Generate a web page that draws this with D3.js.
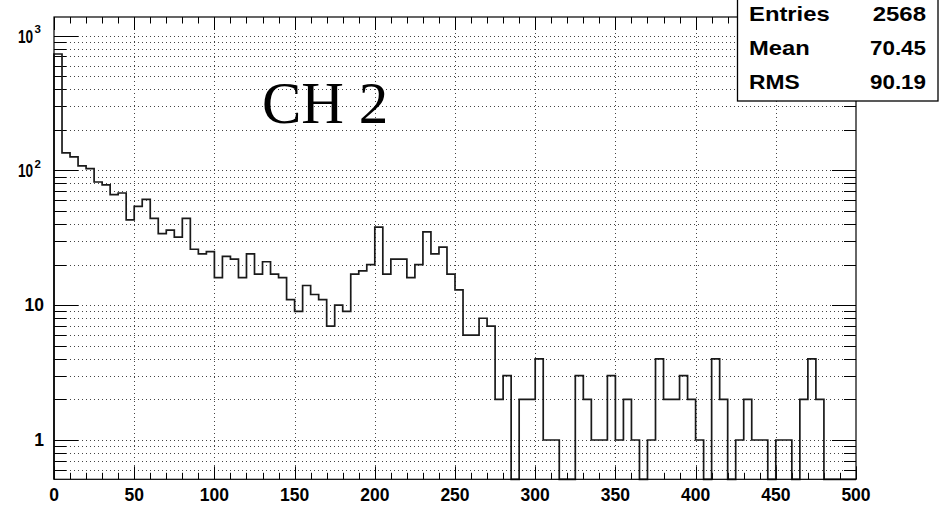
<!DOCTYPE html>
<html><head><meta charset="utf-8">
<script src="https://cdn.jsdelivr.net/npm/d3@7"></script>
<style>body{margin:0;background:#fff}svg{display:block}</style>
</head><body><svg id="c" width="945" height="507"></svg>
<script>
// ---- data ----
const xRange = [0, 500];
const binWidth = 5;
const counts = [
  730,135,126,108,103,82,78,66,68,43,
  54,61,44,34,36,32,44,26,24,25,
  16,23,22,16,24,17,21,17,16,11,
  9,14,12,11,7,10,9,17,18,20,
  38,17,22,22,16,20,35,24,27,17,
  13,6,6,8,7,2,3,0,2,2,
  4,1,1,0,0,3,2,1,1,3,
  1,2,1,0,1,4,2,2,3,2,
  1,0,4,2,0,1,2,1,1,0,
  1,1,0,2,4,2,0,0,0,0
];
const xMajorTicks = [0,50,100,150,200,250,300,350,400,450,500];
const xMinorStep = 10;
const yMajorTicks = [1,10,100,1000];
const yTickLabels = [{b:"1",p:""},{b:"10",p:""},{b:"10",p:"2"},{b:"10",p:"3"}];
const statLabels = ["Entries","Mean","RMS"];
const statValues = ["2568","70.45","90.19"];
const titleText = "CH 2";

// ---- layout ----
const L = 54, R = 856, T = 17, B = 479.3;
const svg = d3.select("#c");
const x = d3.scaleLinear().domain(xRange).range([L, R]);
const y = d3.scaleLog().domain([0.511, 1374]).range([B, T]);

const yAll = [];
for (let e = -1; e <= 3; e++) for (let m = 1; m <= 9; m++) {
  const v = m * Math.pow(10, e);
  if (v >= y.domain()[0] && v <= y.domain()[1]) yAll.push(v);
}
const isMajor = v => yMajorTicks.includes(v);

const grid = svg.append("g").attr("stroke", "#444").attr("stroke-width", 1)
  .attr("stroke-dasharray", "1,3").attr("fill", "none");
grid.selectAll("line.h").data(yAll).join("line")
  .attr("x1", L).attr("x2", R)
  .attr("y1", d => Math.round(y(d)) + 0.5).attr("y2", d => Math.round(y(d)) + 0.5);
grid.selectAll("line.v").data(xMajorTicks.filter(d => d > xRange[0] && d < xRange[1])).join("line")
  .attr("y1", T).attr("y2", B)
  .attr("x1", d => Math.round(x(d)) + 0.5).attr("x2", d => Math.round(x(d)) + 0.5);

const ticks = svg.append("g").attr("stroke", "#000").attr("stroke-width", 1);
const xMinor = d3.range(xRange[0], xRange[1] + 0.001, xMinorStep);
xMinor.forEach(v => {
  const major = xMajorTicks.includes(v);
  const len = major ? 13 : 6.5;
  const px = Math.round(x(v)) + 0.5;
  ticks.append("line").attr("x1", px).attr("x2", px).attr("y1", B).attr("y2", B - len);
  ticks.append("line").attr("x1", px).attr("x2", px).attr("y1", T).attr("y2", T + len);
});
yAll.forEach(v => {
  const len = isMajor(v) ? 24 : 12;
  const py = Math.round(y(v)) + 0.5;
  ticks.append("line").attr("x1", L).attr("x2", L + len).attr("y1", py).attr("y2", py);
  ticks.append("line").attr("x1", R).attr("x2", R - len).attr("y1", py).attr("y2", py);
});

// histogram step path
const pts = [[x(xRange[0]), B]];
counts.forEach((c, i) => {
  const x0 = x(xRange[0] + i * binWidth), x1 = x(xRange[0] + (i + 1) * binWidth);
  const yy = c > 0 ? y(c) : B;
  pts.push([x0, yy], [x1, yy]);
});
pts.push([x(xRange[1]), B]);
svg.append("path").attr("d", d3.line()(pts)).attr("fill", "none")
  .attr("stroke", "#1a1a1a").attr("stroke-width", 1.7);

// frame
svg.append("rect").attr("x", L).attr("y", T).attr("width", R - L).attr("height", B - T)
  .attr("fill", "none").attr("stroke", "#000").attr("stroke-width", 1.2);

// x labels
svg.append("g").selectAll("text").data(xMajorTicks).join("text")
  .attr("x", d => x(d)).attr("y", 500.5).attr("text-anchor", "middle")
  .attr("font-family", "Liberation Sans, Arial, sans-serif").attr("font-weight", "bold")
  .attr("font-size", 17.5).text(d => d);

// y labels
const yl = svg.append("g").attr("font-family", "Liberation Sans, Arial, sans-serif")
  .attr("font-weight", "bold").attr("fill", "#000");
yMajorTicks.forEach((v, i) => {
  const lab = yTickLabels[i];
  const py = y(v);
  if (lab.p === "") {
    yl.append("text").attr("x", 44).attr("y", py + 6).attr("text-anchor", "end")
      .attr("font-size", 17.5).text(lab.b);
  } else {
    yl.append("g").attr("transform", `translate(18,${py + 7}) scale(0.74,1)`)
      .append("text").attr("x", 0).attr("y", 0).attr("font-size", 18.5).text(lab.b);
    yl.append("text").attr("x", 34.5).attr("y", py - 2.7).attr("font-size", 11.5).text(lab.p);
  }
});

// title text
svg.append("text").attr("x", 262).attr("y", 123)
  .attr("font-family", "Liberation Serif, Times New Roman, serif")
  .attr("font-size", 59).attr("fill", "#000").text(titleText);

// stats box
const sb = svg.append("g");
sb.append("rect").attr("x", 737.5).attr("y", -2).attr("width", 200.5).attr("height", 103)
  .attr("fill", "#fff").attr("stroke", "#000").attr("stroke-width", 1.3);
const labW = [80.7, 60.7, 50.7], valW = [53.3, 56, 56];
statLabels.forEach((s, i) => {
  const by = 20.7 + i * 34.2;
  sb.append("text").attr("x", 749).attr("y", by)
    .attr("font-family", "Liberation Sans, Arial, sans-serif").attr("font-weight", "bold")
    .attr("font-size", 20.5).attr("textLength", labW[i]).attr("lengthAdjust", "spacingAndGlyphs").text(s);
  sb.append("text").attr("x", 926 - valW[i]).attr("y", by)
    .attr("font-family", "Liberation Sans, Arial, sans-serif").attr("font-weight", "bold")
    .attr("font-size", 20.5).attr("textLength", valW[i]).attr("lengthAdjust", "spacingAndGlyphs").text(statValues[i]);
});
</script></body></html>
